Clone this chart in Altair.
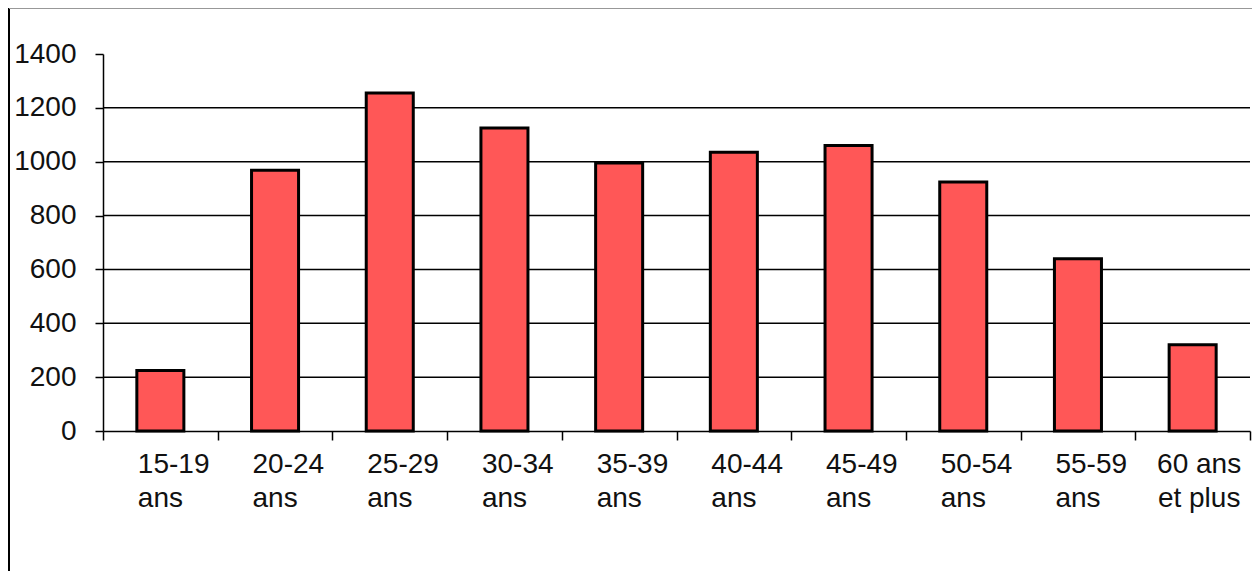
import altair as alt
import pandas as pd

categories = ["15-19|ans", "20-24|ans", "25-29|ans", "30-34|ans", "35-39|ans",
              "40-44|ans", "45-49|ans", "50-54|ans", "55-59|ans", "60 ans|et plus"]
values = [225, 968, 1255, 1125, 995, 1035, 1060, 925, 640, 320]
y_ticks = [0, 200, 400, 600, 800, 1000, 1200, 1400]
grid_values = [200, 400, 600, 800, 1000, 1200]

df = pd.DataFrame({"cat": categories, "val": values})
grid_df = pd.DataFrame({"g": grid_values})

FONT = "Liberation Sans"
LAST = categories[-1]

yscale = alt.Scale(domain=[0, 1400], nice=False)
yaxis = alt.Axis(values=y_ticks, grid=False, tickSize=8, tickColor="black", format="d",
                 domainColor="black", domainWidth=1.5, tickWidth=1.5,
                 labelFont=FONT, labelFontSize=28, labelColor="#111",
                 labelPadding=19)

grid = alt.Chart(grid_df).mark_rule(color="black", strokeWidth=1.5).encode(
    y=alt.Y("g:Q", scale=yscale, axis=yaxis, title=None)
)

bars = alt.Chart(df).mark_bar(
    color="#FF5757", stroke="black", strokeWidth=3, width={"band": 0.41}
).encode(
    x=alt.X("cat:N", sort=categories, title=None,
            scale=alt.Scale(paddingInner=0, paddingOuter=0),
            axis=alt.Axis(labelExpr="split(datum.label, '|')", labelAngle=0,
                          tickBand="extent", tickSize=9, tickColor="black",
                          domainColor="black", domainWidth=1.5, tickWidth=1.5,
                          labelFont=FONT, labelFontSize=28, labelColor="#111",
                          labelAlign={"expr": f"datum.value == '{LAST}' ? 'center' : 'left'"},
                          labelOffset={"expr": f"datum.value == '{LAST}' ? 6 : -23"},
                          labelBaseline="top",
                          labelLineHeight=34, labelPadding=10)),
    y=alt.Y("val:Q", scale=yscale, title=None, axis=yaxis),
)

frame_left = alt.Chart(grid_df).mark_rule(color="black", strokeWidth=1.5, clip=False).encode(
    x=alt.value(-94), y=alt.value(-46), y2=alt.value(560)
)
frame_top = alt.Chart(grid_df).mark_rule(color="#999", strokeWidth=1.5, clip=False).encode(
    x=alt.value(-94), x2=alt.value(1160), y=alt.value(-46)
)

chart = alt.layer(grid, bars, frame_left, frame_top).properties(
    width=1147, height=377,
    autosize=alt.AutoSizeParams(type="none"),
    padding={"left": 95, "top": 46, "right": 2, "bottom": 140},
    background="white",
).configure_view(stroke=None)

chart.save("out.html", embed_options={"renderer": "svg", "actions": False})
